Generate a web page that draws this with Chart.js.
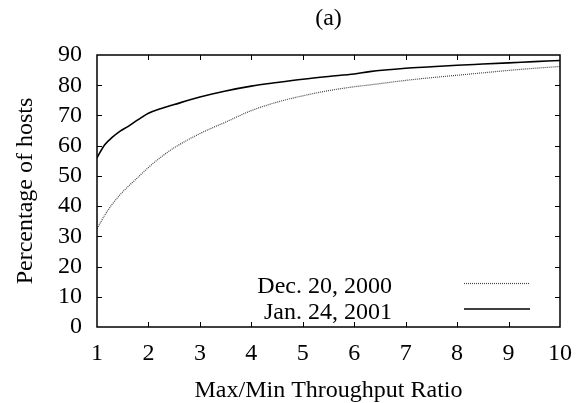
<!DOCTYPE html>
<html>
<head>
<meta charset="utf-8">
<script src="https://cdn.jsdelivr.net/npm/chart.js@4.4.1/dist/chart.umd.min.js"></script>
<style>
  html, body { margin: 0; padding: 0; background: #fff; }
  #wrap { width: 584px; height: 403px; }
</style>
</head>
<body>
<div id="wrap"><canvas id="chart" width="584" height="403"></canvas></div>
<script>
// Data
const ratios = [1, 1.15, 1.3, 1.45, 1.6, 1.8, 2, 2.25, 2.5, 3, 3.5, 4, 4.5, 5, 5.5, 6, 6.3, 7, 7.5, 8, 8.5, 9, 9.5, 10];
const dec2000 = [32.5, 37, 40.7, 43.8, 46.4, 49.6, 52.8, 56.3, 59.3, 64, 67.8, 71.6, 74.4, 76.5, 78.2, 79.5, 80.1, 81.6, 82.5, 83.3, 84.1, 84.9, 85.6, 86.2];
const jan2001 = [56, 60.3, 62.8, 64.8, 66.3, 68.6, 70.7, 72.3, 73.6, 76.1, 78.1, 79.7, 80.9, 82, 82.9, 83.7, 84.5, 85.6, 86.1, 86.6, 87, 87.4, 87.8, 88.2];
const seriesLabels = ['Dec. 20, 2000', 'Jan. 24, 2001'];
const xTicks = [1, 2, 3, 4, 5, 6, 7, 8, 9, 10];
const yTicks = [0, 10, 20, 30, 40, 50, 60, 70, 80, 90];
const panelTitle = '(a)';

const FONT = '"Liberation Serif", "Times New Roman", serif';

function toPoints(xs, ys) {
  return xs.map((x, i) => ({ x: x, y: ys[i] }));
}

// gnuplot style frame with inward ticks on all four sides
const frameTicks = {
  id: 'frameTicks',
  afterDatasetsDraw(chart) {
    const { ctx, chartArea: a, scales: { x, y } } = chart;
    ctx.save();
    ctx.strokeStyle = '#000';
    ctx.lineWidth = 1;
    ctx.beginPath();
    xTicks.forEach(v => {
      if (v === x.min || v === x.max) return;
      const px = Math.round(x.getPixelForValue(v)) + 0.5;
      ctx.moveTo(px, a.bottom); ctx.lineTo(px, a.bottom - 5);
      ctx.moveTo(px, a.top); ctx.lineTo(px, a.top + 5);
    });
    yTicks.forEach(v => {
      if (v === y.min || v === y.max) return;
      const py = Math.round(y.getPixelForValue(v)) + 0.5;
      ctx.moveTo(a.left, py); ctx.lineTo(a.left + 5, py);
      ctx.moveTo(a.right, py); ctx.lineTo(a.right - 5, py);
    });
    ctx.stroke();
    ctx.lineWidth = 1.5;
    ctx.strokeRect(a.left, a.top, a.right - a.left, a.bottom - a.top);
    ctx.restore();
  }
};

// panel title centred over the plot, and the key in the lower right
const labels = {
  id: 'labels',
  afterDraw(chart) {
    const { ctx, chartArea: a } = chart;
    ctx.save();
    ctx.font = '24px ' + FONT;
    ctx.fillStyle = '#000';
    ctx.textAlign = 'center';
    ctx.textBaseline = 'middle';
    ctx.fillText(panelTitle, (a.left + a.right) / 2, 19);

    ctx.textAlign = 'right';
    ctx.textBaseline = 'alphabetic';
    chart.data.datasets.forEach((ds, i) => {
      const ly = a.bottom - 44 + i * 25.5;
      ctx.fillText(ds.label, a.right - 168, ly + 10);
      ctx.beginPath();
      ctx.strokeStyle = ds.borderColor;
      ctx.lineWidth = ds.borderWidth;
      ctx.setLineDash(ds.borderDash || []);
      ctx.moveTo(a.right - 96, ly + 0.5);
      ctx.lineTo(a.right - 30, ly + 0.5);
      ctx.stroke();
    });
    ctx.restore();
  }
};

new Chart('chart', {
  type: 'line',
  data: {
    datasets: [{
      label: seriesLabels[0],
      data: toPoints(ratios, dec2000),
      borderColor: '#444',
      borderWidth: 1.2,
      borderDash: [1, 1],
      pointRadius: 0,
      cubicInterpolationMode: 'monotone',
      fill: false,
    }, {
      label: seriesLabels[1],
      data: toPoints(ratios, jan2001),
      borderColor: '#000',
      borderWidth: 1.6,
      pointRadius: 0,
      cubicInterpolationMode: 'monotone',
      fill: false,
    }]
  },
  options: {
    responsive: false,
    animation: false,
    layout: { padding: { left: 0, right: 24, top: 55, bottom: 0 } },
    plugins: {
      legend: { display: false },
      tooltip: { enabled: false },
    },
    scales: {
      x: {
        type: 'linear',
        min: 1,
        max: 10,
        afterBuildTicks: s => { s.ticks = xTicks.map(v => ({ value: v })); },
        afterFit: s => { s.height = 76; },
        grid: { display: false, drawTicks: false },
        border: { display: false },
        ticks: {
          color: '#000',
          padding: 12,
          autoSkip: false,
          maxRotation: 0,
          font: { family: FONT, size: 24 },
        },
        title: {
          display: true,
          text: 'Max/Min Throughput Ratio',
          color: '#000',
          font: { family: FONT, size: 24 },
          padding: { top: 0, bottom: -2 },
        },
      },
      y: {
        min: 0,
        max: 90,
        afterBuildTicks: s => { s.ticks = yTicks.map(v => ({ value: v })); },
        afterFit: s => { s.width = 97; },
        grid: { display: false, drawTicks: false },
        border: { display: false },
        ticks: {
          color: '#000',
          padding: 15,
          autoSkip: false,
          font: { family: FONT, size: 24 },
        },
        title: {
          display: true,
          text: 'Percentage of hosts',
          color: '#000',
          font: { family: FONT, size: 24 },
          padding: { top: 11, bottom: 0 },
        },
      },
    },
  },
  plugins: [frameTicks, labels],
});
</script>
</body>
</html>
